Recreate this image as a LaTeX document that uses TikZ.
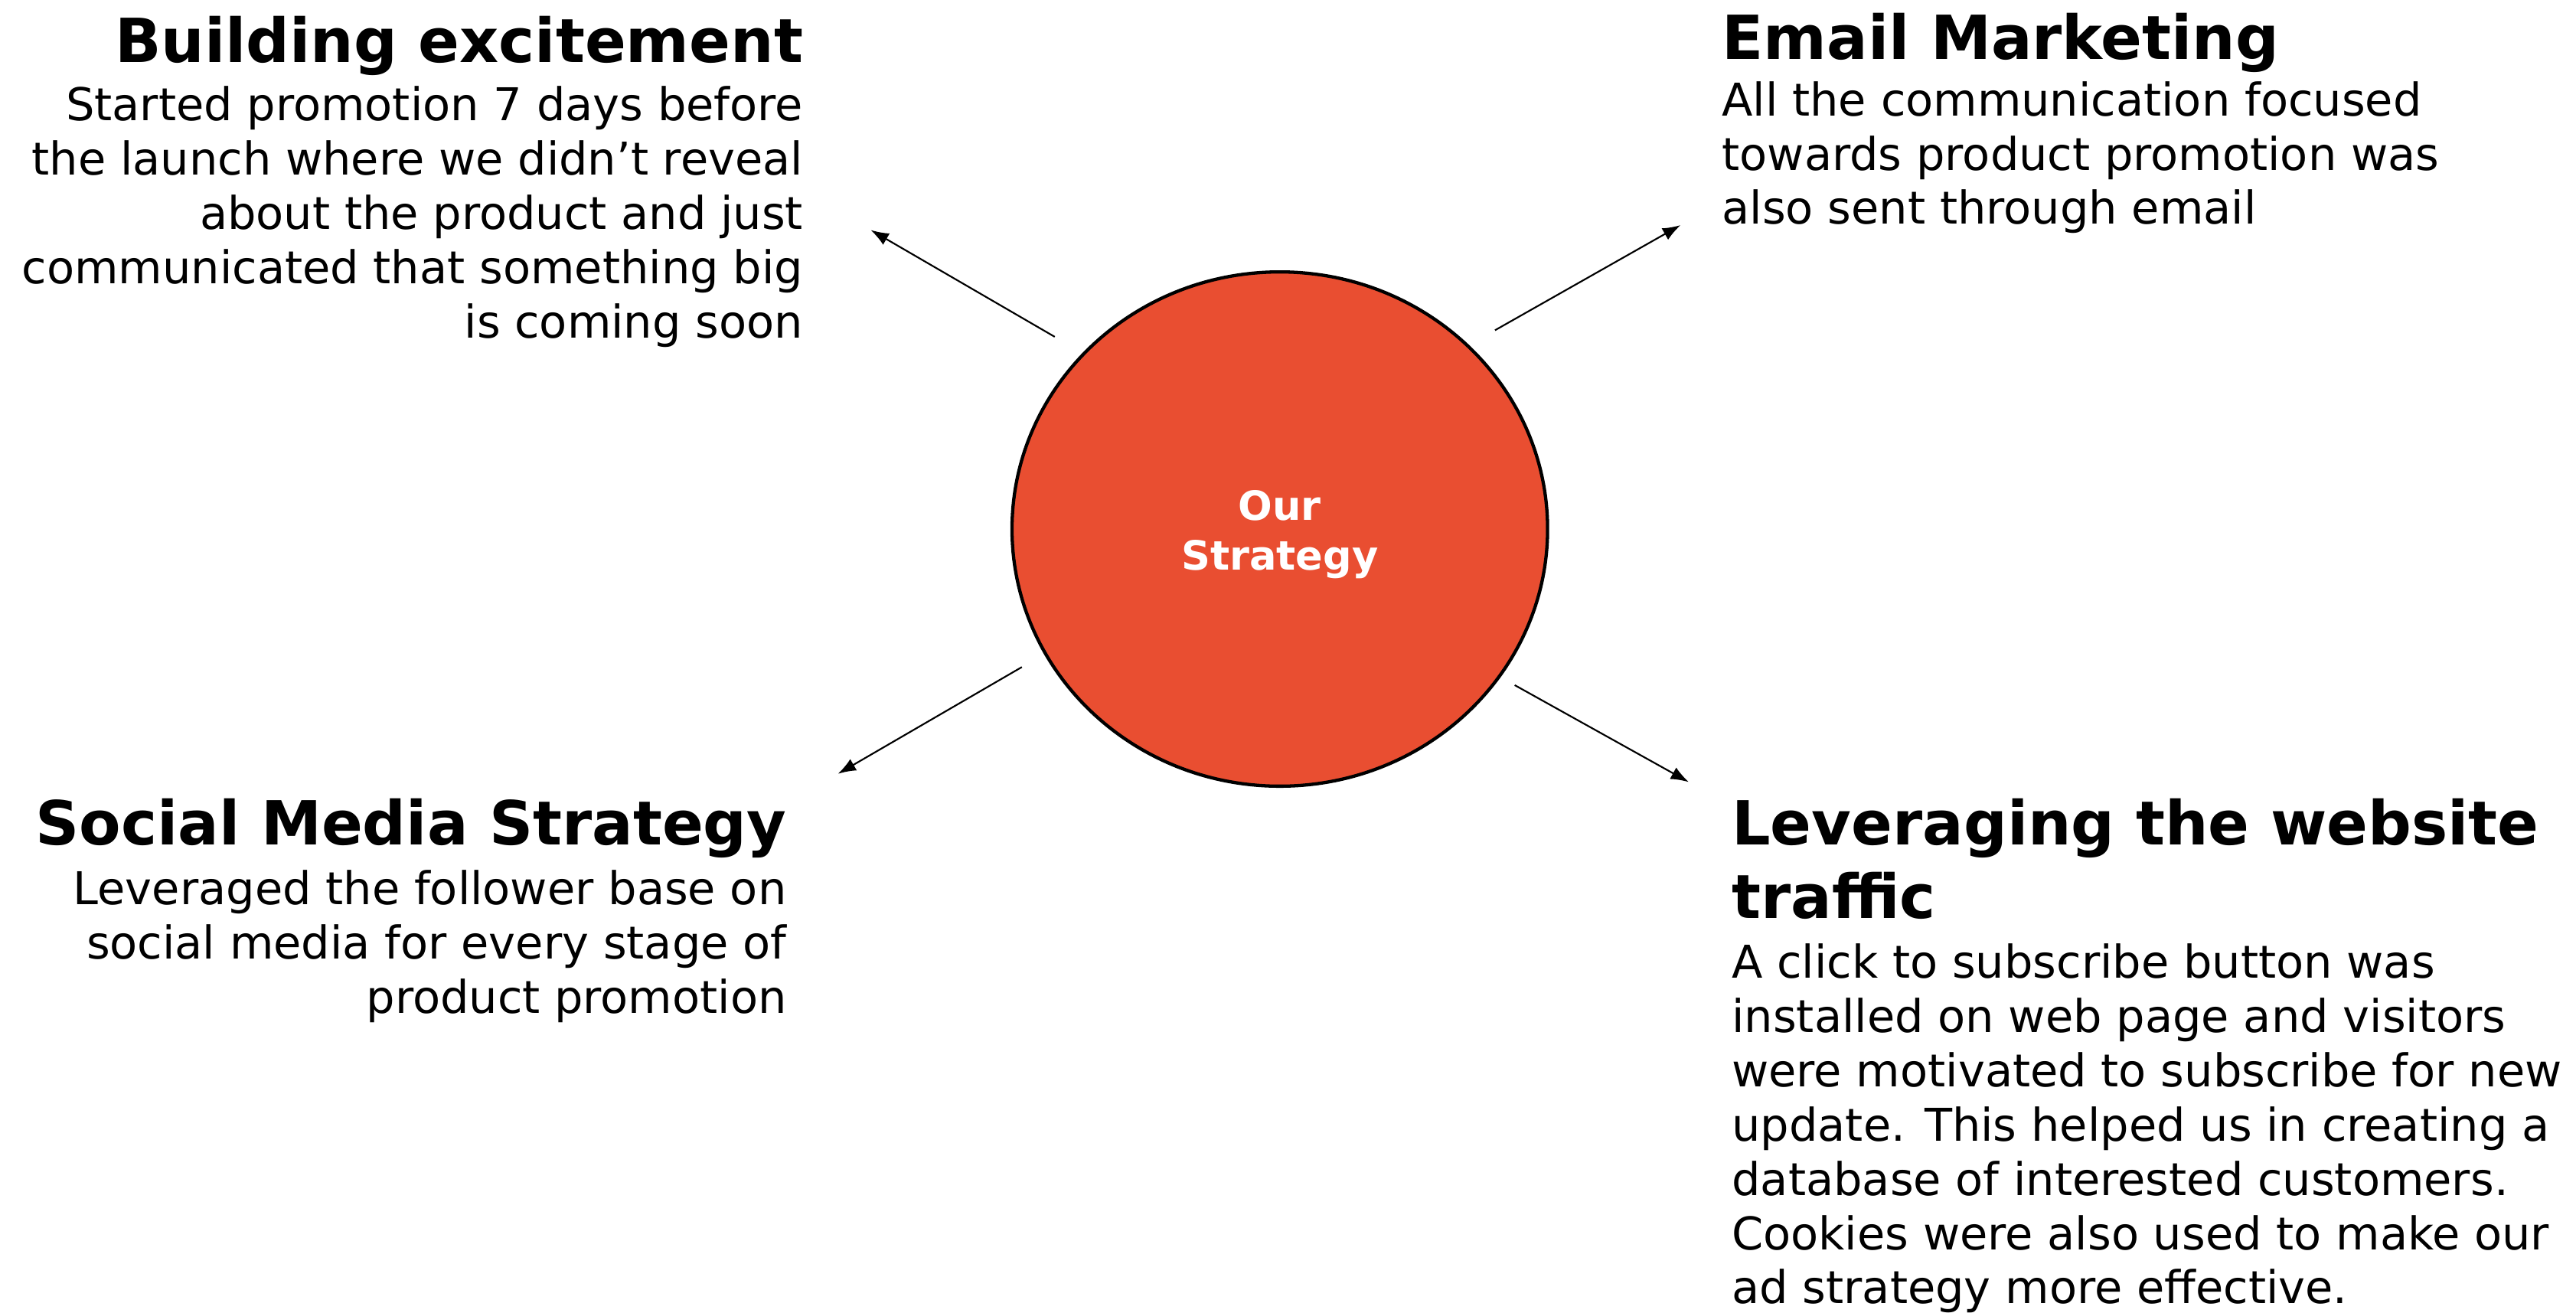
\documentclass[tikz,border=0pt]{standalone}
\usepackage{fontspec}
\setmainfont{DejaVu Sans}
\usetikzlibrary{arrows.meta,shapes.geometric}
\definecolor{hubred}{HTML}{E94E31}
\tikzset{
  hub/.style={ellipse, draw=black, line width=2pt, fill=hubred,
    minimum width=326pt, minimum height=313pt, inner sep=0pt,
    text=white, align=center,
    font=\bfseries\fontsize{24.5}{30}\selectfont},
  headline/.style={inner sep=0pt, font=\bfseries\fontsize{37}{45}\selectfont},
  bodytext/.style={inner sep=0pt, font=\fontsize{27.5}{33}\selectfont},
  link/.style={line width=1pt, -{Latex[length=11pt,width=8pt]}}
}
\begin{document}
\begin{tikzpicture}[x=1pt,y=-1pt]
\useasboundingbox (0,0) rectangle (1568,799);

% central hub, its two-line caption set a little below the centre
\node[hub] (hub) at (779,322) {\rule{0pt}{25pt}Our\\Strategy};

% top left block (base anchor = baseline of the last line)
\node[headline, anchor=base east] (t1) at (489,38) {Building excitement};
\node[bodytext, anchor=base east, align=right] (b1) at (489,205.5)
  {Started promotion 7 days before\\the launch where we didn’t reveal\\about the product and just\\communicated that something big\\is coming soon};

% top right block
\node[headline, anchor=base west] (t2) at (1048,36) {Email Marketing};
\node[bodytext, anchor=base west, align=left] (b2) at (1048,136.5)
  {All the communication focused\\towards product promotion was\\also sent through email};

% bottom left block
\node[headline, anchor=base east] (t3) at (479,514) {Social Media Strategy};
\node[bodytext, anchor=base east, align=right] (b3) at (479,616.5)
  {Leveraged the follower base on\\social media for every stage of\\product promotion};

% bottom right block
\node[headline, anchor=base west, align=left] (t4) at (1054,559)
  {Leveraging the website\\traffic};
\node[bodytext, anchor=base west, align=left] (b4) at (1054,793.5)
  {A click to subscribe button was\\installed on web page and visitors\\were motivated to subscribe for new\\update. This helped us in creating a\\database of interested customers.\\Cookies were also used to make our\\ad strategy more effective.};

% connector ends around the hub
\coordinate (s1) at (642,205);
\coordinate (s2) at (910,201);
\coordinate (s3) at (622,406);
\coordinate (s4) at (922,417);
\coordinate (e1) at (530,140);
\coordinate (e2) at (1023,137);
\coordinate (e3) at (510,471);
\coordinate (e4) at (1028,476);

% connectors
\draw[link] (s1) -- (e1);
\draw[link] (s2) -- (e2);
\draw[link] (s3) -- (e3);
\draw[link] (s4) -- (e4);
\end{tikzpicture}
\end{document}
